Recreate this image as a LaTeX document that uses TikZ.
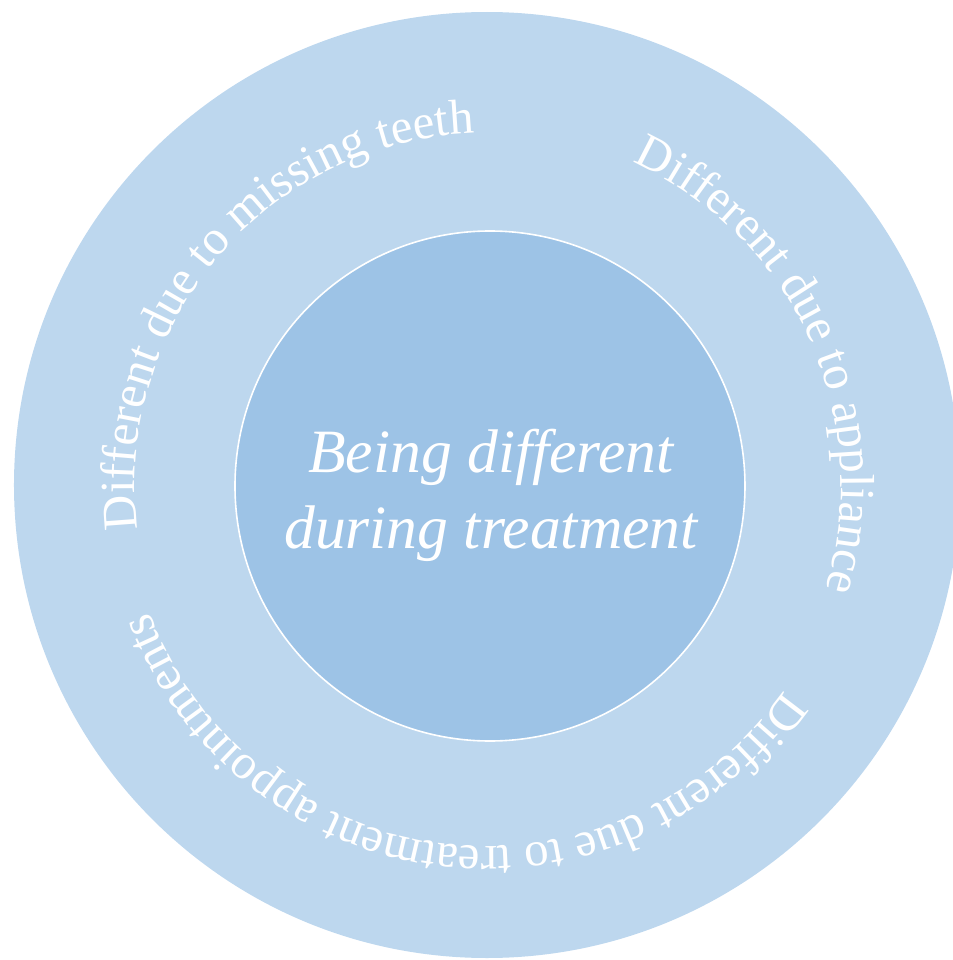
\documentclass[tikz,border=0pt]{standalone}
\usepackage{fontspec}
\setmainfont{Liberation Serif}
\usepackage{tikz}
\usetikzlibrary{decorations.text}

\definecolor{ringblue}{HTML}{BDD7EE}
\definecolor{coreblue}{HTML}{9DC3E6}
\newcommand{\ringfont}{\fontsize{24.5pt}{29pt}\selectfont\color{white}}
\tikzset{
  ringtext/.style={decorate, decoration={text along path, text align=center,
    text={|\ringfont|#1}}}
}

\begin{document}
\begin{tikzpicture}[x=0.5pt, y=0.5pt]
    \clip (-487,-475) rectangle (466,485);

    % Outer ring and core
    \fill[ringblue] (0,0) circle[radius=473];
    \filldraw[fill=coreblue, draw=white, line width=0.8pt] (3,-1) circle[radius=255];
    \node[text=white, align=center, font=\itshape\fontsize{30.8pt}{38pt}\selectfont] (core) at (4,-10) {Being different\\during treatment};

    % Labels running clockwise round the ring
    \path[ringtext={Different due to missing teeth}] (209.6:352) arc[start angle=209.6, end angle=69.6, radius=352];
    \path[ringtext={Different due to appliance}] (94.3:354) arc[start angle=94.3, end angle=-45.7, radius=354];
    \path[ringtext={Different due to treatment appointments}] (-22:361) arc[start angle=-22, end angle=-172, radius=361];
\end{tikzpicture}
\end{document}
